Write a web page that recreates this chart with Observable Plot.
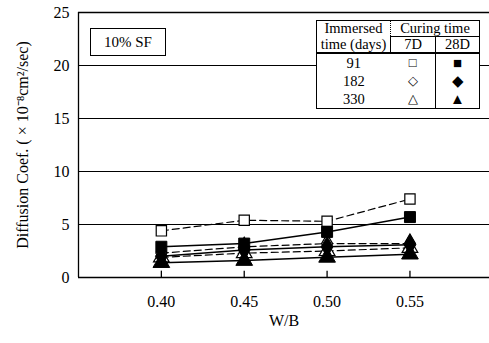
<!DOCTYPE html>
<html><head><meta charset="utf-8">
<script src="https://cdn.jsdelivr.net/npm/d3@7"></script>
<script src="https://cdn.jsdelivr.net/npm/@observablehq/plot@0.6"></script>
<style>
body{margin:0;background:#fff;font-family:"Liberation Serif","Times New Roman",serif;color:#000;}
#wrap{position:relative;width:489px;height:343px;overflow:hidden;}
#sf{position:absolute;left:90px;top:28px;width:74px;height:26px;border:1px solid #000;font-size:15px;line-height:26px;text-align:center;background:#fff;}
#leg{position:absolute;left:316px;top:20px;border-collapse:collapse;font-size:14.5px;background:#fff;border:1px solid #000;}
#leg td{padding:0;text-align:center;line-height:15px;}
#leg .c1{width:73px;}
#leg .c2{width:44px;}
#leg .c3{width:43px;border-left:1px solid #000;}
#leg .hd td{border-bottom:2px solid #000;}
#leg .dot{border-left:1px dotted #000;}
#leg .sol{border-left:1px solid #000;}
#leg .ul{border-bottom:1px solid #000;}
#leg .b td{line-height:18px;}
#leg .b .c2{font-size:13px;}
#leg .b .c3{font-size:15px;}
</style></head><body><div id="wrap"></div>
<script>
const wb = [0.40, 0.45, 0.50, 0.55];
const yTicks = [0, 5, 10, 15, 20, 25];
const immersedDays = ["91", "182", "330"];
const curing = ["7D", "28D"];
const open7 = ["□", "◇", "△"];
const filled28 = ["■", "◆", "▲"];
const symbols = ["square", "diamond", "triangle"];
// Diffusion coefficient (x10^-8 cm2/sec)
const d7_91 = [4.4, 5.4, 5.3, 7.4];
const d28_91 = [2.9, 3.2, 4.3, 5.7];
const d7_182 = [2.3, 2.9, 3.2, 3.2];
const d28_182 = [2.0, 2.6, 2.9, 3.1];
const d7_330 = [1.9, 2.3, 2.5, 2.8];
const d28_330 = [1.4, 1.6, 1.9, 2.2];

const series = [
  {cure: "7D", days: "91", sym: "square", v: d7_91},
  {cure: "7D", days: "182", sym: "diamond", v: d7_182},
  {cure: "7D", days: "330", sym: "triangle", v: d7_330},
  {cure: "28D", days: "91", sym: "square", v: d28_91},
  {cure: "28D", days: "182", sym: "diamond", v: d28_182},
  {cure: "28D", days: "330", sym: "triangle", v: d28_330}
];
const rows = [];
series.forEach(s => wb.forEach((x, i) => rows.push({x, y: s.v[i], key: s.cure + "-" + s.days, cure: s.cure, sym: s.sym})));
const r7 = rows.filter(d => d.cure === "7D");
const r28 = rows.filter(d => d.cure === "28D");

const plot = Plot.plot({
  width: 489, height: 343,
  marginLeft: 78, marginRight: 0, marginTop: 12, marginBottom: 66,
  style: {fontFamily: "Liberation Serif, Times New Roman, serif", fontSize: "16px", color: "#000", background: "#fff"},
  x: {domain: [0.35, 0.598]},
  y: {domain: [0, 25]},
  symbol: {domain: symbols, range: symbols},
  marks: [
    Plot.ruleY([5, 10, 15, 20], {stroke: "#000", strokeWidth: 1}),
    Plot.ruleY([0, 25], {stroke: "#000", strokeWidth: 1.3}),
    Plot.ruleX([0.35], {stroke: "#000", strokeWidth: 1.3}),
    Plot.ruleX(wb, {x: d => d, y1: 0, y2: 0.6, stroke: "#000", strokeWidth: 1.3}),
    Plot.axisX({ticks: wb, tickSize: 0, tickPadding: 18, tickFormat: d => d.toFixed(2), fontSize: 16, label: null}),
    Plot.axisY({ticks: yTicks, tickSize: 0, tickPadding: 9, fontSize: 16, label: null}),
    Plot.text(["W/B"], {frameAnchor: "bottom", dy: 48, fontSize: 16, text: d => d}),
    Plot.text(["Diffusion Coef. ( × 10⁻⁸cm²/sec)"], {frameAnchor: "left", textAnchor: "middle", dx: -56, rotate: -90, fontSize: 16, text: d => d}),
    Plot.line(r7, {x: "x", y: "y", z: "key", stroke: "#000", strokeWidth: 1.2, strokeDasharray: "7,4"}),
    Plot.line(r28, {x: "x", y: "y", z: "key", stroke: "#000", strokeWidth: 1.5}),
    Plot.dot(r7, {x: "x", y: "y", symbol: "sym", r: 5.8, fill: "#fff", stroke: "#000", strokeWidth: 1.2}),
    Plot.dot(r28, {x: "x", y: "y", symbol: "sym", r: 6.2, fill: "#000", stroke: "#000", strokeWidth: 1})
  ]
});
const wrap = document.getElementById("wrap");
wrap.appendChild(plot);

const sf = document.createElement("div");
sf.id = "sf"; sf.textContent = "10% SF";
wrap.appendChild(sf);

const t = document.createElement("table");
t.id = "leg";
let html = `<tr><td class="c1">Immersed</td><td class="dot ul" colspan="2">Curing time</td></tr>`;
html += `<tr class="hd"><td class="c1">time (days)</td><td class="c2 sol">${curing[0]}</td><td class="c3">${curing[1]}</td></tr>`;
immersedDays.forEach((d, i) => {
  html += `<tr class="b"><td class="c1">${d}</td><td class="c2">${open7[i]}</td><td class="c3">${filled28[i]}</td></tr>`;
});
t.innerHTML = html;
wrap.appendChild(t);
</script>
</body></html>
